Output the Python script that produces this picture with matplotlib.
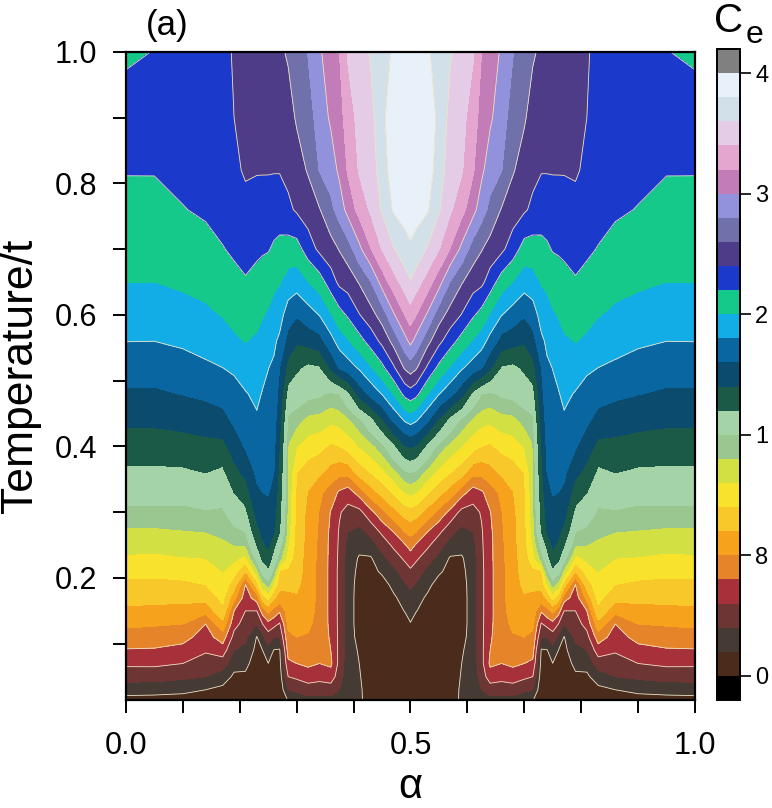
import numpy as np
import matplotlib
matplotlib.use('Agg')
import matplotlib.pyplot as plt
from matplotlib.colors import ListedColormap, BoundaryNorm

plt.rcParams['font.family'] = ['Liberation Sans', 'DejaVu Sans']

# ---------------- data ----------------
# temperature rows (T/t)
temperature = [0.012, 0.03, 0.05, 0.07, 0.09, 0.11, 0.13, 0.15, 0.17, 0.19, 0.21,
               0.23, 0.25, 0.27, 0.30, 0.33, 0.36, 0.40, 0.44, 0.48, 0.52, 0.56,
               0.60, 0.65, 0.70, 0.76, 0.82, 0.90, 1.00]

# flux alpha columns for the left half (the map is symmetric about alpha = 0.5)
alpha_half = [0.00, 0.05, 0.10, 0.14, 0.17, 0.19, 0.21, 0.23, 0.24, 0.25, 0.26, 0.27,
              0.285, 0.30, 0.32, 0.34, 0.36, 0.375, 0.39, 0.41, 0.43, 0.45, 0.47,
              0.49, 0.50]

# C_e along temperature for each alpha column (bottom -> top)
ce_a000 = [0.055, 0.144, 0.24, 0.319, 0.393, 0.456, 0.519, 0.581, 0.632, 0.677, 0.729, 0.786, 0.835, 0.881, 0.969, 1.063, 1.159, 1.298, 1.439, 1.570, 1.689, 1.802, 1.890, 2.000, 2.063, 2.137, 2.210, 2.280, 2.170]
ce_a005 = [0.05, 0.14, 0.24, 0.32, 0.39, 0.45, 0.51, 0.57, 0.63, 0.67, 0.73, 0.78, 0.83, 0.88, 0.97, 1.06, 1.16, 1.30, 1.44, 1.57, 1.69, 1.80, 1.89, 2.00, 2.07, 2.14, 2.21, 2.30, 2.205]
ce_a010 = [0.05, 0.125, 0.22, 0.30, 0.367, 0.433, 0.50, 0.567, 0.627, 0.681, 0.737, 0.794, 0.844, 0.893, 0.967, 1.058, 1.167, 1.317, 1.464, 1.606, 1.722, 1.831, 1.928, 2.03, 2.104, 2.193, 2.245, 2.31, 2.30]
ce_a014 = [0.04, 0.10, 0.20, 0.257, 0.311, 0.356, 0.40, 0.533, 0.633, 0.70, 0.75, 0.80, 0.85, 0.90, 0.986, 1.091, 1.20, 1.345, 1.494, 1.639, 1.768, 1.871, 1.965, 2.059, 2.142, 2.225, 2.28, 2.34, 2.33]
ce_a017 = [0.03, 0.075, 0.15, 0.25, 0.35, 0.45, 0.567, 0.675, 0.727, 0.764, 0.80, 0.84, 0.88, 0.92, 0.98, 1.062, 1.154, 1.343, 1.533, 1.677, 1.80, 1.907, 2.009, 2.10, 2.191, 2.27, 2.32, 2.36, 2.37]
ce_a019 = [0.02, 0.05, 0.083, 0.133, 0.20, 0.267, 0.333, 0.40, 0.533, 0.65, 0.74, 0.82, 0.90, 0.967, 1.08, 1.20, 1.333, 1.491, 1.636, 1.725, 1.833, 1.967, 2.055, 2.145, 2.23, 2.30, 2.37, 2.40, 2.41]
ce_a021 = [0.02, 0.05, 0.083, 0.125, 0.175, 0.22, 0.26, 0.30, 0.35, 0.40, 0.60, 0.767, 0.90, 1.00, 1.15, 1.30, 1.45, 1.621, 1.704, 1.787, 1.896, 2.006, 2.083, 2.184, 2.263, 2.354, 2.418, 2.45, 2.47]
ce_a023 = [0.01, 0.02, 0.03, 0.05, 0.07, 0.095, 0.20, 0.30, 0.45, 0.65, 0.85, 1.04, 1.20, 1.333, 1.467, 1.567, 1.635, 1.704, 1.774, 1.842, 1.908, 1.975, 2.048, 2.143, 2.233, 2.333, 2.41, 2.47, 2.53]
ce_a024 = [0.01, 0.03, 0.05, 0.07, 0.10, 0.18, 0.30, 0.45, 0.65, 0.85, 1.05, 1.233, 1.367, 1.44, 1.52, 1.60, 1.638, 1.688, 1.738, 1.788, 1.857, 1.933, 2.011, 2.118, 2.22, 2.327, 2.41, 2.46, 2.52]
ce_a025 = [0.015, 0.04, 0.07, 0.099, 0.165, 0.25, 0.367, 0.53, 0.73, 0.93, 1.144, 1.33, 1.429, 1.478, 1.551, 1.61, 1.641, 1.682, 1.722, 1.763, 1.804, 1.892, 1.975, 2.093, 2.211, 2.325, 2.41, 2.46, 2.52]
ce_a026 = [0.015, 0.03, 0.05, 0.07, 0.095, 0.20, 0.333, 0.467, 0.615, 0.783, 0.955, 1.10, 1.24, 1.41, 1.467, 1.533, 1.60, 1.643, 1.686, 1.73, 1.773, 1.833, 1.922, 2.04, 2.173, 2.295, 2.41, 2.47, 2.54]
ce_a027 = [0.015, 0.03, 0.05, 0.07, 0.09, 0.20, 0.29, 0.413, 0.56, 0.633, 0.69, 0.93, 1.044, 1.20, 1.243, 1.286, 1.329, 1.386, 1.455, 1.527, 1.60, 1.76, 1.88, 2.013, 2.147, 2.294, 2.41, 2.48, 2.57]
ce_a0285 = [0.10, 0.20, 0.30, 0.38, 0.44, 0.48, 0.52, 0.55, 0.58, 0.62, 0.68, 0.75, 0.80, 0.83, 0.85, 0.86, 0.87, 0.89, 0.97, 1.12, 1.33, 1.52, 1.70, 1.92, 2.11, 2.36, 2.45, 2.53, 2.62]
ce_a030 = [0.12, 0.22, 0.32, 0.40, 0.45, 0.50, 0.53, 0.56, 0.59, 0.62, 0.64, 0.65, 0.66, 0.665, 0.67, 0.68, 0.70, 0.80, 0.933, 1.083, 1.23, 1.42, 1.617, 1.89, 2.115, 2.425, 2.52, 2.62, 2.70]
ce_a032 = [0.15, 0.25, 0.35, 0.42, 0.46, 0.49, 0.52, 0.54, 0.55, 0.555, 0.56, 0.56, 0.565, 0.57, 0.575, 0.595, 0.65, 0.75, 0.867, 1.04, 1.154, 1.467, 1.711, 1.994, 2.296, 2.50, 2.616, 2.71, 2.81]
ce_a034 = [0.15, 0.25, 0.33, 0.40, 0.43, 0.45, 0.46, 0.47, 0.47, 0.47, 0.47, 0.475, 0.48, 0.485, 0.495, 0.522, 0.614, 0.729, 0.856, 1.02, 1.18, 1.52, 1.806, 2.10, 2.443, 2.588, 2.808, 2.89, 2.97]
ce_a036 = [0.15, 0.25, 0.35, 0.42, 0.40, 0.39, 0.38, 0.375, 0.375, 0.375, 0.375, 0.375, 0.375, 0.38, 0.395, 0.45, 0.56, 0.683, 0.819, 0.978, 1.427, 1.729, 1.979, 2.304, 2.523, 2.746, 2.896, 3.03, 3.12]
ce_a0375 = [0.12, 0.20, 0.25, 0.27, 0.275, 0.275, 0.275, 0.275, 0.275, 0.275, 0.275, 0.28, 0.285, 0.29, 0.31, 0.386, 0.525, 0.70, 0.833, 1.0, 1.62, 1.885, 2.126, 2.445, 2.61, 2.89, 3.04, 3.11, 3.20]
ce_a039 = [0.10, 0.12, 0.13, 0.14, 0.145, 0.145, 0.145, 0.145, 0.145, 0.145, 0.15, 0.155, 0.165, 0.20, 0.265, 0.35, 0.53, 0.736, 0.876, 1.14, 1.707, 1.98, 2.224, 2.49, 2.705, 3.067, 3.222, 3.31, 3.42]
ce_a041 = [0.12, 0.12, 0.11, 0.10, 0.09, 0.07, 0.06, 0.06, 0.06, 0.065, 0.075, 0.09, 0.13, 0.17, 0.27, 0.44, 0.64, 0.80, 0.963, 1.47, 1.83, 2.12, 2.39, 2.615, 2.95, 3.27, 3.42, 3.46, 3.50]
ce_a043 = [0.05, 0.04, 0.03, 0.03, 0.03, 0.03, 0.03, 0.035, 0.04, 0.05, 0.06, 0.09, 0.157, 0.23, 0.37, 0.553, 0.70, 0.86, 1.126, 1.664, 1.98, 2.28, 2.52, 2.79, 3.19, 3.43, 3.47, 3.53, 3.62]
ce_a045 = [0.03, 0.03, 0.03, 0.03, 0.03, 0.03, 0.03, 0.03, 0.04, 0.05, 0.12, 0.17, 0.237, 0.32, 0.47, 0.632, 0.765, 0.953, 1.37, 1.81, 2.15, 2.45, 2.69, 3.08, 3.41, 3.62, 3.72, 3.76, 3.70]
ce_a047 = [0.03, 0.03, 0.03, 0.03, 0.03, 0.03, 0.03, 0.03, 0.08, 0.133, 0.171, 0.244, 0.32, 0.40, 0.565, 0.71, 0.852, 1.14, 1.636, 2.01, 2.37, 2.66, 2.97, 3.31, 3.58, 3.82, 3.88, 3.90, 3.83]
ce_a049 = [0.03, 0.03, 0.03, 0.03, 0.03, 0.03, 0.03, 0.106, 0.147, 0.188, 0.248, 0.318, 0.39, 0.50, 0.643, 0.80, 0.967, 1.378, 1.822, 2.257, 2.626, 2.93, 3.20, 3.495, 3.725, 3.87, 3.91, 3.93, 3.90]
ce_a050 = [0.01, 0.02, 0.03, 0.04, 0.05, 0.07, 0.095, 0.133, 0.171, 0.217, 0.283, 0.354, 0.437, 0.531, 0.66, 0.821, 1.0, 1.42, 1.878, 2.314, 2.696, 3.05, 3.309, 3.584, 3.777, 3.88, 3.93, 3.95, 3.91]

# contour levels and colours (from the colour bar)
levels = [0.0, 0.1, 0.2, 0.3, 0.4, 0.5, 0.6, 0.7, 0.8, 0.9, 1.0,
          1.2, 1.4, 1.6, 1.8, 2.0, 2.2, 2.4, 2.6, 2.8, 3.0,
          3.2, 3.4, 3.6, 3.8, 4.0]
band_colors = ['#4b2b1b', '#463a34', '#6e3535', '#a6313b', '#e6842a',
               '#f7a21c', '#f8c72a', '#f9e22b', '#d3e043', '#9ac690',
               '#a3d3a7', '#1c5a48', '#0b4c6e', '#0a66a0', '#12ade6',
               '#14c98a', '#1b3acc', '#4e3c88', '#7070aa', '#9191dc',
               '#c27cb8', '#e4a6cf', '#e4cce6', '#d2e0ea', '#e8f1fa']
under_color = '#000000'
over_color = '#808080'
line_levels = [0.1, 0.3, 0.4, 1.8, 2.2, 2.4, 2.6, 3.0, 3.6, 3.8]
line_color = '#efe2c4'

cbar_ticks = [0.0, 0.5, 1.0, 2.0, 3.0, 4.0]
cbar_ticklabels = ['0', '8', '1', '2', '3', '4']
x_major = [0.0, 0.5, 1.0]
x_labels = ['0.0', '0.5', '1.0']
y_major = [0.2, 0.4, 0.6, 0.8, 1.0]
y_labels = ['0.2', '0.4', '0.6', '0.8', '1.0']

# ---------------- build the grid ----------------
columns_half = [ce_a000, ce_a005, ce_a010, ce_a014, ce_a017, ce_a019, ce_a021,
                ce_a023, ce_a024, ce_a025, ce_a026, ce_a027, ce_a0285, ce_a030,
                ce_a032, ce_a034, ce_a036, ce_a0375, ce_a039, ce_a041, ce_a043,
                ce_a045, ce_a047, ce_a049, ce_a050]
half = np.array(columns_half).T
a_half = np.array(alpha_half)
alpha_full = np.concatenate([a_half, 1.0 - a_half[::-1][1:]])
Z = np.hstack([half, half[:, ::-1][:, 1:]])
T = np.array(temperature)

cmap = ListedColormap(band_colors)
cmap.set_under(under_color)
cmap.set_over(over_color)
norm = BoundaryNorm(levels, cmap.N)

# ---------------- figure ----------------
fig = plt.figure(figsize=(7.72, 8.08), dpi=100)
ax = fig.add_axes([0.1632, 0.1337, 0.7370, 0.8020])

cf = ax.contourf(alpha_full, T, Z, levels=levels, cmap=cmap, norm=norm, extend='both')
ax.contour(alpha_full, T, Z, levels=line_levels, colors=line_color, linewidths=0.6)

ax.set_xlim(0.0, 1.0)
ax.set_ylim(0.0145, 1.0)
ax.set_xticks(x_major)
ax.set_xticklabels(x_labels)
ax.set_xticks(np.arange(0.1, 1.0, 0.1), minor=True)
ax.set_yticks(y_major)
ax.set_yticklabels(y_labels)
ax.set_yticks([0.1, 0.3, 0.5, 0.7, 0.9], minor=True)
ax.tick_params(which='both', direction='out', length=9.5, width=1.4, labelsize=22)
ax.tick_params(axis='y', which='both', pad=11)
ax.tick_params(axis='x', which='both', pad=13)
for sp in ax.spines.values():
    sp.set_linewidth(1.6)

ax.set_ylabel('Temperature/t', fontsize=32, labelpad=10)
ax.set_xlabel('\u03b1', fontsize=30, labelpad=4)

fig.text(0.189, 0.9567, '(a)', fontsize=25, ha='left', va='baseline')

# colour bar
cax = fig.add_axes([0.9288, 0.1337, 0.0298, 0.8057])
cb = fig.colorbar(cf, cax=cax, extendrect=True, extendfrac=0.04, spacing='uniform')
cb.set_ticks(cbar_ticks)
cb.set_ticklabels(cbar_ticklabels)
cb.ax.minorticks_off()
cb.ax.tick_params(direction='out', length=8, width=1.2, labelsize=17, pad=3)
cb.outline.set_linewidth(1.4)

fig.text(0.925, 0.960, 'C', fontsize=29, ha='left', va='baseline')
fig.text(0.966, 0.947, 'e', fontsize=23, ha='left', va='baseline')

fig.savefig('out.png', dpi=100)
